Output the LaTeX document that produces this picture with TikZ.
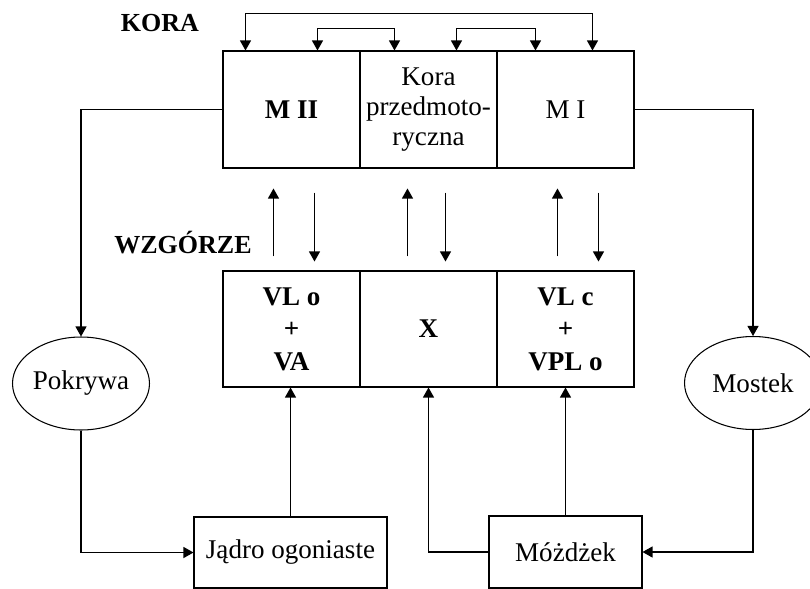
\documentclass[tikz,border=0pt]{standalone}
\usepackage{fontspec}
\setmainfont{Liberation Serif}
\usetikzlibrary{arrows.meta,calc,shapes.geometric}
\newcommand\txtfont{\fontsize{15.4pt}{17.1pt}\selectfont}
\newcommand\thalfont{\bfseries\fontsize{15.4pt}{18.5pt}\selectfont}
\newcommand\lblfont{\bfseries\fontsize{14.8pt}{17pt}\selectfont}

\begin{document}
\begin{tikzpicture}[x=0.02cm, y=-0.02cm, line width=0.6pt,
		>={Triangle[length=0.2cm,width=0.22cm]},
		cell/.style={draw, rectangle, inner sep=0pt, minimum width=2.74cm, align=center, font=\txtfont},
		kcell/.style={cell, minimum height=2.34cm},
		tcell/.style={cell, minimum height=2.32cm, font=\thalfont},
		oval/.style={draw, ellipse, inner sep=0pt, minimum width=2.74cm, minimum height=1.86cm, font=\txtfont},
		lbl/.style={font=\lblfont}]
		%%%%% START %%%%%
		
		\useasboundingbox (0,0) rectangle (810,588);
		\clip (0,0) rectangle (810,588);
		
		\node[lbl] (kora) at (160,23) {KORA};
		\node[lbl] (wzg) at (183,243) {WZGÓRZE};
		
		% kora
		\node[kcell, font=\bfseries\txtfont] (mii) at (291.5,109.5) {M II};
		\node[kcell] (kp) at (428.5,109.5) {Kora\\przedmoto-\\ryczna};
		\node[kcell] (mi) at (565.5,109.5) {M I};
		
		% wzgorze
		\node[tcell] (vlo) at (291.5,329) {VL o\\+\\VA};
		\node[tcell] (nx) at (428.5,329) {X};
		\node[tcell] (vlc) at (565.5,329) {VL c\\+\\VPL o};
		
		\node[oval] (pokrywa) at (81,383.5) {Pokrywa};
		\node[oval] (mostek) at (753,383) {Mostek};
		
		\node[cell, minimum width=3.86cm, minimum height=1.42cm] (jadro) at (290.5,552.5) {Jądro ogoniaste};
		\node[cell, minimum width=3.06cm, minimum height=1.44cm] (mozdzek) at (565.5,552) {Móżdżek};
		
		% petle nad kora
		\draw[<->] ($(mii.north west)+(23,0)$) -- ++(0,-37) -| ($(mi.north west)+(96,0)$);
		\draw[<->] ($(mii.north west)+(95,0)$) -- ++(0,-22) -| ($(kp.north west)+(35,0)$);
		\draw[<->] ($(kp.north west)+(97,0)$) -- ++(0,-22) -| ($(mi.north west)+(39,0)$);
		
		% kora <-> wzgorze
		\draw[->] ($(vlo.north west)+(51,-14)$) -- ($(mii.south west)+(51,20)$);
		\draw[->] ($(mii.south west)+(92,24)$) -- ($(vlo.north west)+(92,-9)$);
		\draw[->] ($(nx.north west)+(48,-14)$) -- ($(kp.south west)+(48,20)$);
		\draw[->] ($(kp.south west)+(86,24)$) -- ($(nx.north west)+(86,-9)$);
		\draw[->] ($(vlc.north west)+(61,-14)$) -- ($(mi.south west)+(61,20)$);
		\draw[->] ($(mi.south west)+(102,24)$) -- ($(vlc.north west)+(102,-9)$);
		
		% boki
		\draw[->] (mii.west) -| (pokrywa.north);
		\draw[->] (mi.east) -| (mostek.north);
		\draw[->] (pokrywa.south) |- (jadro.west);
		\draw[->] (mostek.south) |- (mozdzek.east);
		
		% dol
		\draw[->] (jadro.north) -- (jadro.north |- vlo.south);
		\draw[->] (mozdzek.north) -- (mozdzek.north |- vlc.south);
		\draw[->] (mozdzek.west) -| (nx.south);
		
		%%%%% END %%%%%
\end{tikzpicture}
\end{document}
